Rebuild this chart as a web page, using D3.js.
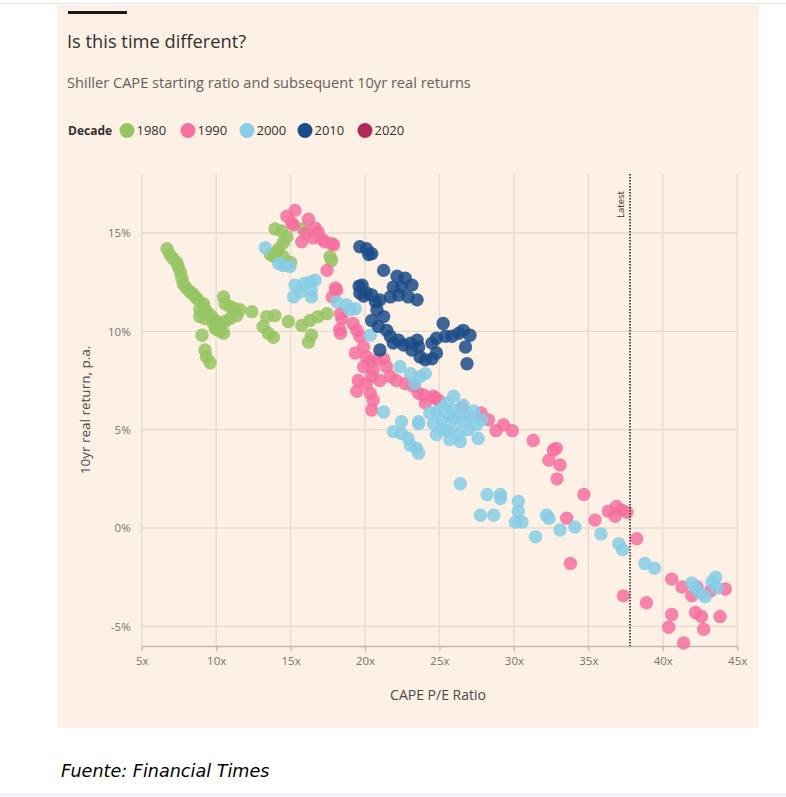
<!DOCTYPE html>
<html lang="en">
    <head>
        <meta charset="utf-8">
        <title>Is this time different?</title>
        <script type="text/javascript" src="https://cdn.jsdelivr.net/npm/d3@7"></script>
        <style type="text/css">
          body { margin: 0; background: #fff; }
          text { font-family: "Open Sans", Lato, sans-serif; }
        </style>
    </head>
    <body>
        <script type="text/javascript">

          // [CAPE ratio, subsequent 10yr real return %]
          var d1980 = [
            [6.7,14.2],[6.9,13.9],[7.1,13.7],[7.35,13.5],[7.45,13.3],[7.6,13.0],[7.7,12.7],[7.8,12.4],
            [8.0,12.2],[8.25,12.0],[8.45,11.9],[8.6,11.75],[8.8,11.6],[9.15,11.4],[9.25,11.15],[8.9,11.1],
            [9.5,10.9],[8.9,10.75],[9.25,10.65],[9.7,10.75],[10.05,10.5],[10.25,10.3],[9.95,10.2],[10.5,9.9],
            [9.05,9.8],[9.25,9.05],[9.35,8.7],[9.6,8.4],[10.3,10.0],[9.8,10.4],[10.0,10.1],
            [10.5,11.75],[10.6,11.4],[10.95,11.25],[11.25,11.15],[11.6,11.1],[12.4,11.0],[11.4,10.8],
            [10.95,10.65],[10.6,10.5],
            [13.4,10.75],[13.95,10.8],[13.15,10.25],[13.5,9.9],[13.85,9.7],[14.85,10.5],[15.75,10.3],
            [16.3,10.55],[16.85,10.75],[17.45,10.9],[16.4,9.8],[16.2,9.45],
            [13.95,15.2],[14.4,15.1],[14.75,14.8],[14.5,14.5],[14.2,14.2],[14.05,14.0],[13.65,13.9],
            [13.9,13.8],[14.5,13.8],[15.0,13.5],[15.85,15.2],[17.65,13.8],[17.75,13.6]
          ];

          var d1990 = [
            [14.75,15.85],[15.3,16.15],[15.2,15.4],[16.2,15.7],[16.65,15.25],[16.85,15.05],[15.75,14.55],
            [16.5,14.75],[17.1,14.7],[17.3,14.55],[17.75,14.45],[17.9,14.4],[15.1,15.5],[16.0,15.0],
            [17.45,13.1],[18.0,12.2],[17.8,11.75],[18.35,10.9],[18.45,10.65],[18.35,9.9],[18.3,10.1],[18.1,12.1],
            [19.2,10.4],[19.45,10.05],[19.65,9.75],[19.35,8.9],[19.9,9.2],[20.1,8.7],[20.35,8.45],[20.8,8.55],
            [21.25,8.6],[21.45,8.2],[20.55,8.05],[19.9,8.2],[19.55,7.5],[20.1,7.35],[20.45,7.7],[21.0,7.5],
            [21.7,7.7],[22.1,7.5],[22.7,7.35],[19.45,6.95],[20.35,6.85],[20.55,6.5],[20.45,6.0],
            [23.25,7.2],[23.6,6.85],[23.95,6.75],[24.6,6.7],[24.95,6.5],[24.05,6.35],[24.7,6.6],[26.5,6.1],
            [27.8,5.85],[28.3,5.5],[28.8,4.95],[29.3,5.25],[29.9,4.95],[31.3,4.45],[32.65,3.95],[32.85,4.05],
            [32.35,3.45],[33.1,3.2],[32.9,2.5],[34.7,1.7],[33.55,0.5],[35.45,0.4],[36.35,0.85],[36.9,1.1],
            [37.25,0.9],[36.8,0.6],[37.6,0.8],[38.25,-0.55],[33.8,-1.8],
            [37.35,-3.45],[38.9,-3.8],[40.6,-2.6],[41.3,-3.0],[41.95,-3.45],[42.2,-4.3],[42.6,-4.5],
            [42.75,-5.15],[43.85,-4.5],[44.2,-3.1],[40.6,-4.4],[40.4,-5.05],[41.4,-5.85],[43.2,-3.2],[42.3,-3.0]
          ];

          var d2000 = [
            [13.3,14.25],[14.2,13.45],[14.5,13.35],[14.95,13.3],[15.3,12.35],[15.95,12.45],[16.65,12.6],
            [16.3,12.5],[15.65,12.0],[15.2,11.75],[16.4,11.75],[16.4,12.1],[18.1,11.5],[18.75,11.35],
            [19.0,11.1],[19.35,11.15],[20.35,9.8],
            [22.35,8.2],[23.05,7.85],[23.7,7.7],[24.05,7.85],[23.35,7.35],[21.25,5.9],[22.45,5.4],[23.6,5.4],
            [21.9,4.9],[22.45,4.8],[22.9,4.55],[23.05,4.2],[23.45,4.05],[23.6,3.8],[23.6,5.3],
            [25.95,6.7],[25.5,6.35],[24.8,5.9],[24.6,5.3],[24.8,4.75],[25.25,5.05],[25.7,5.65],[26.4,5.85],
            [27.05,5.65],[27.5,5.25],[26.95,5.0],[26.3,4.75],[26.4,4.4],[25.7,4.5],[27.6,4.55],[26.7,5.4],
            [26.05,5.25],[25.15,5.5],[24.35,5.85],[26.6,6.25],[25.25,6.1],[25.95,6.0],[27.3,5.95],[27.85,5.5],
            [25.5,4.95],[26.0,5.6],
            [26.4,2.25],[28.2,1.7],[29.1,1.7],[29.1,1.5],[27.75,0.65],[28.65,0.65],[30.3,1.35],[30.3,0.85],
            [30.1,0.3],[30.55,0.3],[31.45,-0.45],[32.2,0.65],[32.35,0.5],[33.1,-0.1],[34.1,0.05],[35.85,-0.3],
            [37.05,-0.8],[37.3,-1.1],[38.8,-1.8],[39.45,-2.05],
            [41.95,-2.8],[42.2,-3.05],[42.85,-3.5],[43.3,-2.75],[43.55,-2.5],[43.65,-3.05],[42.5,-3.3]
          ];

          var d2010 = [
            [19.65,14.3],[20.1,14.2],[20.45,13.95],[20.25,13.9],[21.25,13.1],[22.15,12.8],[22.7,12.7],
            [23.15,12.35],[21.9,12.25],[22.45,12.25],[19.8,12.35],[19.65,11.95],[20.1,11.95],[20.45,11.85],
            [21.0,11.6],[21.7,11.75],[22.25,11.85],[22.9,11.75],[23.5,11.6],[20.7,11.5],[19.9,11.8],[19.6,12.3],
            [20.8,11.1],[21.25,10.75],[20.45,10.55],[20.9,10.25],[21.45,10.05],[21.7,9.75],[21.9,9.4],
            [22.25,9.55],[22.6,9.3],[23.05,9.4],[23.5,9.55],[23.6,9.2],[23.15,9.05],[21.0,9.05],[23.7,8.7],
            [24.05,8.55],[24.5,8.6],[24.8,8.9],[24.5,9.4],[24.8,9.65],[25.25,10.4],[25.4,9.75],[25.85,9.75],
            [26.3,9.9],[26.6,10.05],[27.05,9.8],[26.75,9.2],[26.85,8.35]
          ];

          var d2020 = [];

          var decades = ["1980", "1990", "2000", "2010", "2020"];
          var colors = ["#96c463", "#f5709f", "#86cde5", "#1b4c88", "#b02a58"];
          var xTicks = [5, 10, 15, 20, 25, 30, 35, 40, 45];
          var yTicks = [-5, 0, 5, 10, 15];
          var latest = 37.8;

          var w = 786, h = 797;

          var svg = d3.select("body")
                      .append("svg")
                      .attr("width", w)
                      .attr("height", h);

          // page frame
          svg.append("line")
             .attr("x1", 0).attr("x2", w).attr("y1", 3.5).attr("y2", 3.5)
             .style("stroke", "#e4e4ea");
          svg.append("rect")
             .attr("x", 0).attr("y", 793).attr("width", w).attr("height", 4)
             .style("fill", "#f3f3f8");

          svg.append("rect")
             .attr("x", 57).attr("y", 5)
             .attr("width", 702).attr("height", 723)
             .style("fill", "#fdf0e5");

          svg.append("rect")
             .attr("x", 68).attr("y", 11)
             .attr("width", 59).attr("height", 3)
             .style("fill", "#1a1817");

          svg.append("text")
             .attr("x", 67).attr("y", 48)
             .style("font-size", "18.3px")
             .style("fill", "#33302e")
             .text("Is this time different?");

          svg.append("text")
             .attr("x", 67).attr("y", 88)
             .style("font-size", "14.6px")
             .style("fill", "#66605c")
             .text("Shiller CAPE starting ratio and subsequent 10yr real returns");

          // legend
          var legend = svg.append("g");
          legend.append("text")
                .attr("x", 68).attr("y", 135)
                .style("font-size", "12px")
                .style("font-weight", "bold")
                .style("fill", "#33302e")
                .text("Decade");
          var lx = [127, 188, 247, 305, 365];
          decades.forEach(function(dec, i) {
            legend.append("circle")
                  .attr("cx", lx[i]).attr("cy", 130.5).attr("r", 7.5)
                  .style("fill", colors[i]);
            legend.append("text")
                  .attr("x", lx[i] + 9.5).attr("y", 135)
                  .style("font-size", "13px")
                  .style("fill", "#33302e")
                  .text(dec);
          });

          var xScale = d3.scaleLinear().domain([5, 45]).range([141.7, 737.2]);
          var yScale = d3.scaleLinear().domain([-6, 18]).range([646, 174]);

          // grid
          svg.append("g")
             .selectAll("line")
             .data(xTicks)
             .enter()
             .append("line")
             .attr("x1", d => xScale(d)).attr("x2", d => xScale(d))
             .attr("y1", yScale(18)).attr("y2", yScale(-6))
             .style("stroke", "#e6dad0")
             .style("stroke-width", 1.3);

          svg.append("g")
             .selectAll("line")
             .data(yTicks)
             .enter()
             .append("line")
             .attr("x1", xScale(5)).attr("x2", xScale(45))
             .attr("y1", d => yScale(d)).attr("y2", d => yScale(d))
             .style("stroke", "#e6dad0")
             .style("stroke-width", 1.3);

          var yAxis = d3.axisLeft(yScale)
                        .tickValues(yTicks)
                        .tickSize(0)
                        .tickPadding(11)
                        .tickFormat(d => d + "%");

          var gy = svg.append("g")
                      .attr("transform", "translate(" + xScale(5) + ",0)")
                      .call(yAxis);
          gy.select(".domain").remove();
          gy.selectAll("text")
            .style("font-family", "'Open Sans', sans-serif")
            .style("font-size", "11.5px")
            .style("fill", "#7a726c");

          var xAxis = d3.axisBottom(xScale)
                        .tickValues(xTicks)
                        .tickSize(5)
                        .tickSizeOuter(0)
                        .tickPadding(6)
                        .tickFormat(d => d + "x");

          var gx = svg.append("g")
                      .attr("transform", "translate(0," + yScale(-6) + ")")
                      .call(xAxis);
          gx.select(".domain").style("stroke", "#c4b9b0").style("stroke-width", 1.3);
          gx.selectAll("line").style("stroke", "#c4b9b0").style("stroke-width", 1.3);
          gx.selectAll("text")
            .style("font-family", "'Open Sans', sans-serif")
            .style("font-size", "11.5px")
            .style("fill", "#7a726c");

          // dots
          var series = [d1980, d1990, d2000, d2010, d2020];
          series.forEach(function(s, i) {
            svg.append("g")
               .selectAll("circle")
               .data(s)
               .enter()
               .append("circle")
               .attr("cx", d => xScale(d[0]))
               .attr("cy", d => yScale(d[1]))
               .attr("r", 6.7)
               .style("fill", colors[i])
               .style("fill-opacity", 0.85);
          });

          // latest marker
          svg.append("line")
             .attr("x1", xScale(latest)).attr("x2", xScale(latest))
             .attr("y1", yScale(18)).attr("y2", yScale(-6))
             .style("stroke", "#1a1817")
             .style("stroke-width", 1.5)
             .style("stroke-dasharray", "1.5,1.5");

          svg.append("text")
             .attr("transform", "translate(" + (xScale(latest) - 6) + ",191) rotate(-90)")
             .attr("text-anchor", "end")
             .style("font-size", "9.5px")
             .style("fill", "#33302e")
             .text("Latest");

          // axis titles
          svg.append("text")
             .attr("x", 438).attr("y", 700)
             .attr("text-anchor", "middle")
             .style("font-size", "14px")
             .style("fill", "#4d4845")
             .text("CAPE P/E Ratio");

          svg.append("text")
             .attr("transform", "translate(90,410) rotate(-90)")
             .attr("text-anchor", "middle")
             .style("font-size", "13.5px")
             .style("fill", "#4d4845")
             .text("10yr real return, p.a.");

          svg.append("text")
             .attr("x", 61).attr("y", 777)
             .style("font-family", "'DejaVu Sans', sans-serif")
             .style("font-style", "italic")
             .style("font-size", "17.6px")
             .style("fill", "#000")
             .text("Fuente: Financial Times");

        </script>
    </body>
</html>
